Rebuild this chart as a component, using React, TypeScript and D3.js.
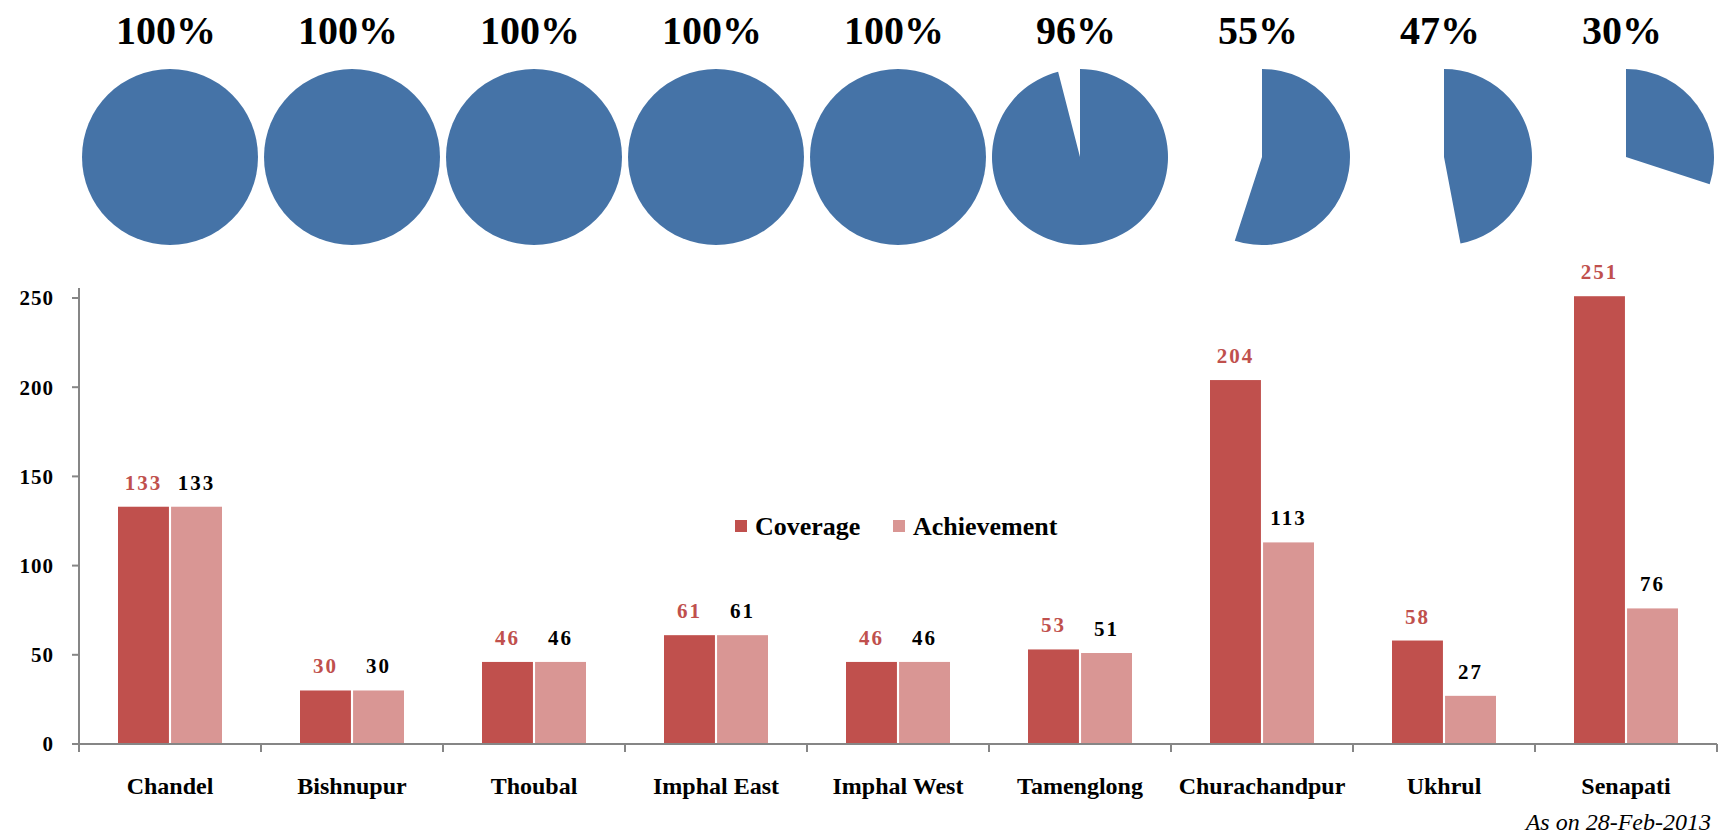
import React, { useEffect } from 'react';
import * as d3 from 'd3';

// district data
const districts = ['Chandel', 'Bishnupur', 'Thoubal', 'Imphal East', 'Imphal West', 'Tamenglong', 'Churachandpur', 'Ukhrul', 'Senapati'];
const coverage = [133, 30, 46, 61, 46, 53, 204, 58, 251];
const achievement = [133, 30, 46, 61, 46, 51, 113, 27, 76];
const piePercents = [100, 100, 100, 100, 100, 96, 55, 47, 30];
const yTicks = [0, 50, 100, 150, 200, 250];
const seriesNames = ['Coverage', 'Achievement'];
const footnote = 'As on 28-Feb-2013';

const W = 1720;
const H = 836;
const FONT = '"Liberation Serif", "Times New Roman", serif';
const RED = '#C0504D';
const PINK = '#D99694';
const BLUE = '#4573A7';
const AXIS = '#868686';

function App(): JSX.Element {
  useEffect(() => {
    document.body.style.margin = '0';
  }, []);

  const left = 79;
  const right = 1717;
  const base = 744;

  const x0 = d3.scaleBand<string>().domain(districts).range([left, right]);
  const bw = x0.bandwidth();
  const x1 = d3.scaleBand<string>()
    .domain(seriesNames)
    .range([bw / 2 - 52, bw / 2 + 52])
    .paddingInner(0.04);
  const y = d3.scaleLinear().domain([0, 250]).range([base, 298]);

  const pie = d3.pie<number>().sort(null).value(d => d);
  const arc = d3.arc<d3.PieArcDatum<number>>().innerRadius(0).outerRadius(88);

  const series = [
    { name: 'Coverage', values: coverage, color: RED, labelColor: RED },
    { name: 'Achievement', values: achievement, color: PINK, labelColor: '#000' },
  ];

  const tickXs = [left, ...districts.slice(1).map(d => x0(d) as number), right];

  return (
    <svg width={W} height={H} style={{ display: 'block', background: '#fff' }} fontFamily={FONT}>
      {/* pies on top */}
      {districts.map((d, i) => {
        const cx = (x0(d) as number) + bw / 2;
        const slices = pie([piePercents[i], 100 - piePercents[i]]);
        return (
          <g key={'pie' + d}>
            <text x={cx - 4} y={44} textAnchor="middle" fontSize={40} fontWeight="bold" fill="#000">
              {piePercents[i]}%
            </text>
            <g transform={`translate(${cx},157)`}>
              <path d={arc(slices[0]) as string} fill={BLUE} />
            </g>
          </g>
        );
      })}

      {/* bars */}
      {series.map(s => (
        <g key={s.name}>
          {districts.map((d, i) => {
            const bx = (x0(d) as number) + (x1(s.name) as number);
            const by = y(s.values[i]);
            return (
              <g key={d}>
                <rect x={bx} y={by} width={x1.bandwidth()} height={base - by} fill={s.color} />
                <text
                  x={bx + x1.bandwidth() / 2}
                  y={by - 17}
                  textAnchor="middle"
                  fontSize={21}
                  fontWeight="bold"
                  letterSpacing={2}
                  fill={s.labelColor}
                >
                  {s.values[i]}
                </text>
              </g>
            );
          })}
        </g>
      ))}

      {/* y axis */}
      <line x1={left} x2={left} y1={288} y2={base} stroke={AXIS} strokeWidth={2} />
      {yTicks.map(t => (
        <g key={'y' + t}>
          <line x1={left - 7} x2={left} y1={y(t)} y2={y(t)} stroke={AXIS} strokeWidth={2} />
          <text x={54} y={y(t)} dy="0.35em" textAnchor="end" fontSize={21} fontWeight="bold" letterSpacing={1} fill="#000">
            {t}
          </text>
        </g>
      ))}

      {/* x axis */}
      <line x1={left} x2={right} y1={base} y2={base} stroke={AXIS} strokeWidth={2} />
      {tickXs.map((tx, i) => (
        <line key={'xt' + i} x1={tx} x2={tx} y1={base} y2={base + 8} stroke={AXIS} strokeWidth={2} />
      ))}
      {districts.map(d => (
        <text key={'xl' + d} x={(x0(d) as number) + bw / 2} y={794} textAnchor="middle" fontSize={24} fontWeight="bold" fill="#000">
          {d}
        </text>
      ))}

      {/* legend */}
      <g>
        <rect x={735} y={520} width={12} height={12} fill={RED} />
        <text x={755} y={535} fontSize={26} fontWeight="bold" fill="#000">Coverage</text>
        <rect x={893} y={520} width={12} height={12} fill={PINK} />
        <text x={913} y={535} fontSize={26} fontWeight="bold" fill="#000">Achievement</text>
      </g>

      <text x={1711} y={830} textAnchor="end" fontSize={24} fontStyle="italic" fill="#000">
        {footnote}
      </text>
    </svg>
  );
}

export default App;
